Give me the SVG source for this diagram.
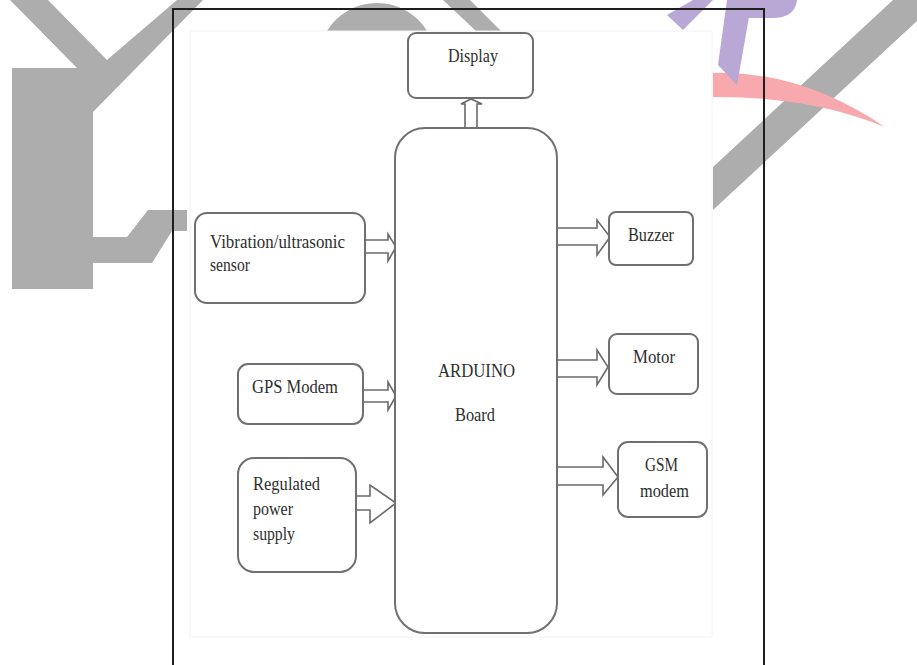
<svg xmlns="http://www.w3.org/2000/svg" width="917" height="665" viewBox="0 0 917 665">
<style>
.wm{fill:#adadad;stroke:none}
.box{fill:#fff;stroke:#707070;stroke-width:2}
.t{font-family:"Liberation Serif","Times New Roman",serif;font-size:18px;fill:#2e2e2e}
.arr{fill:#fff;stroke:#6a6a6a;stroke-width:1.6;stroke-linejoin:miter}
.frame{fill:none;stroke:#1e1e1e;stroke-width:2}
</style>
<rect x="0" y="0" width="917" height="665" fill="#fff"/>
<g id="watermark">
<path class="wm" d="M10,0 L48,0 L107,60 L177,0 L203,0 L93,112 L93,237 L127,237 L148,210 L187,210 L187,231 L172,231 L152,263 L93,263 L93,289 L12,289 L12,68 L77,68 Z"/>
<path class="wm" d="M327,31 A58.6,58.6 0 0 1 427,31 Z"/>
<path class="wm" d="M443,0 L470,0 L501,31 L476,31 Z"/>
<path class="wm" d="M713,167 L893,0 L917,0 L917,21 L713,210 Z"/>
<path fill="#f7a9ad" d="M713,73 Q800,70 885,127 Q810,96 713,97 Z"/>
<g fill="#b9a7d5">
<path d="M667,15 L683,30 L713,0 L693,0 Z"/>
<path d="M718,65 L727,0 L752,0 L737,85 Z"/>
<path d="M745,0 L797,0 Q795,18 772,18 L745,18 Z"/>
</g>
</g>
<rect x="190" y="31" width="522" height="606" fill="#fff" stroke="#f2f2f2" stroke-width="1"/>
<path class="frame" d="M173,665 V9 H764 V665"/>
<g id="connectors">
<path class="arr" d="M465,128 V104 H461 L471,99 L482,104 H477 V128"/>
<path class="arr" d="M365,240 H388 V234 L396,247 L388,261 V253 H365"/>
<path class="arr" d="M363,390 H388 V382 L396,396 L388,410 V402 H363"/>
<path class="arr" d="M356,496 H370 V485 L396,503 L370,523 V510 H356"/>
<path class="arr" d="M557,228 H597 V220 L610,237 L597,255 V245 H557"/>
<path class="arr" d="M557,360 H597 V350 L608,367 L597,385 V377 H557"/>
<path class="arr" d="M557,467 H603 V457 L618,477 L603,495 V485 H557"/>
</g>
<g id="display">
<rect class="box" x="408" y="33" width="125" height="65" rx="8"/>
<text class="t" x="448" y="62" textLength="50" lengthAdjust="spacingAndGlyphs">Display</text>
</g>
<g id="arduino">
<rect class="box" x="395" y="128" width="162" height="505" rx="30"/>
<text class="t" x="438" y="377" textLength="77" lengthAdjust="spacingAndGlyphs">ARDUINO</text>
<text class="t" x="455" y="421" textLength="40" lengthAdjust="spacingAndGlyphs">Board</text>
</g>
<g id="sensor">
<rect class="box" x="195" y="213" width="170" height="90" rx="12"/>
<text class="t" x="210" y="248" textLength="135" lengthAdjust="spacingAndGlyphs">Vibration/ultrasonic</text>
<text class="t" x="210" y="271" textLength="40" lengthAdjust="spacingAndGlyphs">sensor</text>
</g>
<g id="gps">
<rect class="box" x="238" y="364" width="125" height="60" rx="10"/>
<text class="t" x="252" y="393" textLength="86" lengthAdjust="spacingAndGlyphs">GPS Modem</text>
</g>
<g id="power">
<rect class="box" x="238" y="458" width="118" height="114" rx="16"/>
<text class="t" x="253" y="490" textLength="67" lengthAdjust="spacingAndGlyphs">Regulated</text>
<text class="t" x="253" y="515" textLength="40" lengthAdjust="spacingAndGlyphs">power</text>
<text class="t" x="253" y="540" textLength="42" lengthAdjust="spacingAndGlyphs">supply</text>
</g>
<g id="buzzer">
<rect class="box" x="609" y="212" width="84" height="53" rx="7"/>
<text class="t" x="628" y="241" textLength="46" lengthAdjust="spacingAndGlyphs">Buzzer</text>
</g>
<g id="motor">
<rect class="box" x="609" y="334" width="89" height="60" rx="8"/>
<text class="t" x="633" y="363" textLength="42" lengthAdjust="spacingAndGlyphs">Motor</text>
</g>
<g id="gsm">
<rect class="box" x="618" y="442" width="89" height="75" rx="10"/>
<text class="t" x="645" y="471" textLength="33" lengthAdjust="spacingAndGlyphs">GSM</text>
<text class="t" x="640" y="497" textLength="49" lengthAdjust="spacingAndGlyphs">modem</text>
</g>
</svg>
